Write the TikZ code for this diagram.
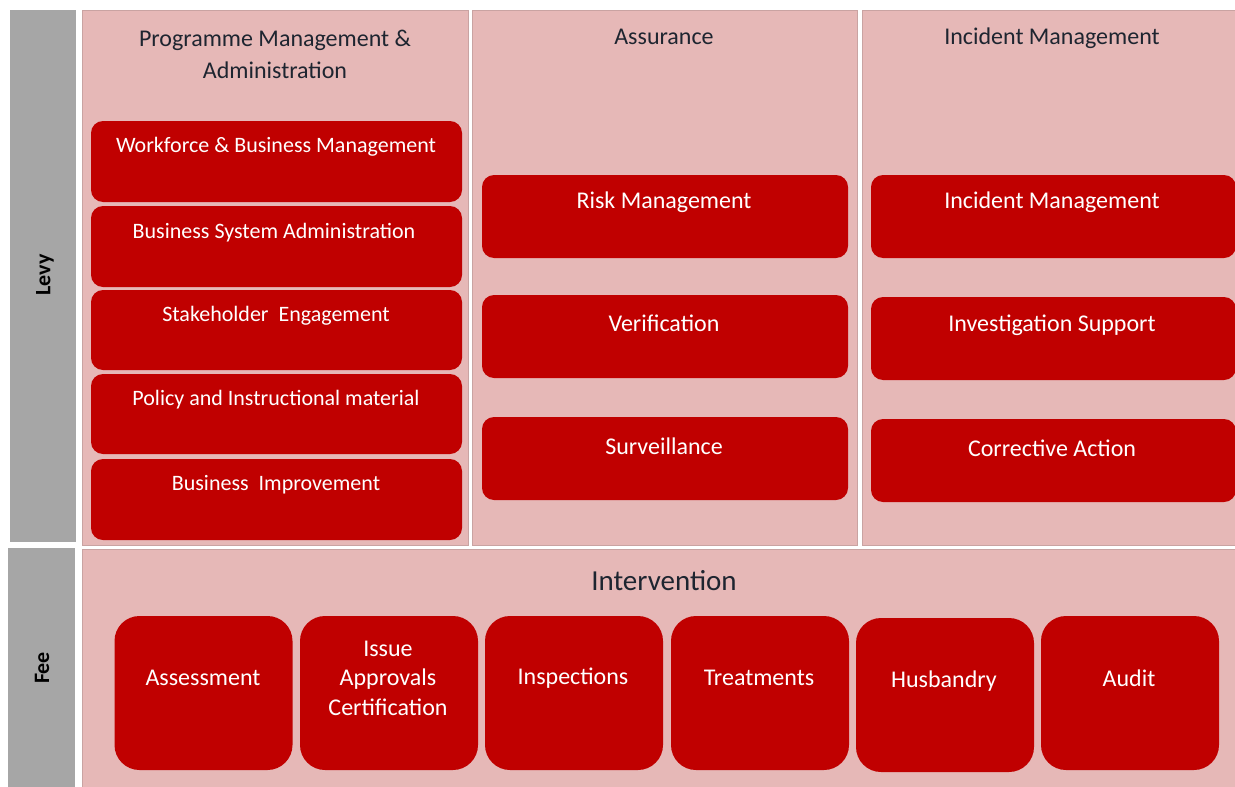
\documentclass[tikz,border=0pt]{standalone}
\usepackage{fontspec}
\setmainfont{Carlito}
\definecolor{panelfill}{HTML}{E6B8B7}
\definecolor{paneldraw}{HTML}{C9A3A2}
\definecolor{barfill}{HTML}{A6A6A6}
\definecolor{boxred}{HTML}{C00000}
\definecolor{headtext}{HTML}{1E2530}
\tikzset{
  panel/.style={fill=panelfill,draw=paneldraw,line width=1pt,inner sep=0pt,outer sep=0pt},
  bar/.style={fill=barfill,draw=none,inner sep=0pt,outer sep=0pt},
  redbox/.style={fill=boxred,draw=none,rounded corners=12pt,inner sep=0pt,outer sep=0pt},
  bigbox/.style={fill=boxred,draw=none,rounded corners=25pt,inner sep=0pt,outer sep=0pt,minimum width=178pt,minimum height=154pt},
  headlbl/.style={text=headtext,font=\fontsize{24}{32}\selectfont,align=center,inner sep=0pt},
  smalltxt/.style={text=white,font=\fontsize{22}{26}\selectfont,inner sep=0pt,text height=0.7em,text depth=0.2em},
  bigtxt/.style={text=white,font=\fontsize{24}{29.5}\selectfont,inner sep=0pt,align=center},
  barlbl/.style={text=black,font=\bfseries\fontsize{22}{26}\selectfont,rotate=90,inner sep=0pt}
}
\begin{document}
\begin{tikzpicture}[x=1pt,y=-1pt]
\useasboundingbox (0,0) rectangle (1235,787);
% side bars
\node[bar,minimum width=66pt,minimum height=532pt] (levybar) at (43,276) {};
\node[bar,minimum width=67pt,minimum height=244pt] (feebar) at (41.5,670) {};
\node[barlbl] (levy) at (45,275) {Levy};
\node[barlbl] (fee) at (42,668) {Fee};
% panels
\node[panel,minimum width=386pt,minimum height=535pt] (pm) at (275,277.5) {};
\node[panel,minimum width=385pt,minimum height=535pt] (as) at (664.5,277.5) {};
\node[panel,minimum width=378pt,minimum height=535pt] (im) at (1051,277.5) {};
\node[panel,minimum width=1158pt,minimum height=243pt] (iv) at (661,670.5) {};
% headers
\node[headlbl] (pmh) at (275,54) {Programme Management \&\\Administration};
\node[headlbl] (ash) at (664,37) {Assurance};
\node[headlbl] (imh) at (1052,38) {Incident Management};
\node[headlbl,font=\fontsize{29}{34}\selectfont] (ivh) at (664,581) {Intervention};
% programme boxes
\node[redbox,minimum width=371pt,minimum height=81pt] (p1) at (276.5,161.5) {};
\node[redbox,minimum width=371pt,minimum height=81pt] (p2) at (276.5,246.5) {};
\node[redbox,minimum width=371pt,minimum height=80pt] (p3) at (276.5,330) {};
\node[redbox,minimum width=371pt,minimum height=80pt] (p4) at (276.5,414) {};
\node[redbox,minimum width=371pt,minimum height=81pt] (p5) at (276.5,499.5) {};
\node[smalltxt] (p1t) at (276,150) {Workforce \& Business Management};
\node[smalltxt] (p2t) at (274,236) {Business System Administration};
\node[smalltxt] (p3t) at (276,319) {Stakeholder\ \ Engagement};
\node[smalltxt] (p4t) at (276,403) {Policy and Instructional material};
\node[smalltxt] (p5t) at (276,488) {Business\ \ Improvement};
% assurance boxes
\node[redbox,minimum width=366pt,minimum height=83pt] (a1) at (665,216.5) {};
\node[redbox,minimum width=366pt,minimum height=83pt] (a2) at (665,336.5) {};
\node[redbox,minimum width=366pt,minimum height=83pt] (a3) at (665,458.5) {};
\node[bigtxt] (a1t) at (664,202) {Risk Management};
\node[bigtxt] (a2t) at (664,323) {Verification};
\node[bigtxt] (a3t) at (664,446) {Surveillance};
% incident boxes
\node[redbox,minimum width=365pt,minimum height=83pt] (i1) at (1053.5,216.5) {};
\node[redbox,minimum width=365pt,minimum height=83pt] (i2) at (1053.5,338.5) {};
\node[redbox,minimum width=365pt,minimum height=83pt] (i3) at (1053.5,460.5) {};
\node[bigtxt] (i1t) at (1052,202) {Incident Management};
\node[bigtxt] (i2t) at (1052,325) {Investigation Support};
\node[bigtxt] (i3t) at (1052,448) {Corrective Action};
% intervention boxes
\node[bigbox] (b1) at (203.5,693) {};
\node[bigbox] (b2) at (389,693) {};
\node[bigbox] (b3) at (574,693) {};
\node[bigbox] (b4) at (760,693) {};
\node[bigbox] (b5) at (945,695) {};
\node[bigbox] (b6) at (1130,693) {};
\node[bigtxt] (b1t) at (203,678) {Assessment};
\node[bigtxt] (b2t) at (388,678) {Issue\\Approvals\\Certification};
\node[bigtxt] (b3t) at (573,678) {Inspections};
\node[bigtxt] (b4t) at (759,678) {Treatments};
\node[bigtxt] (b5t) at (944,681) {Husbandry};
\node[bigtxt] (b6t) at (1129,678) {Audit};
\end{tikzpicture}
\end{document}
